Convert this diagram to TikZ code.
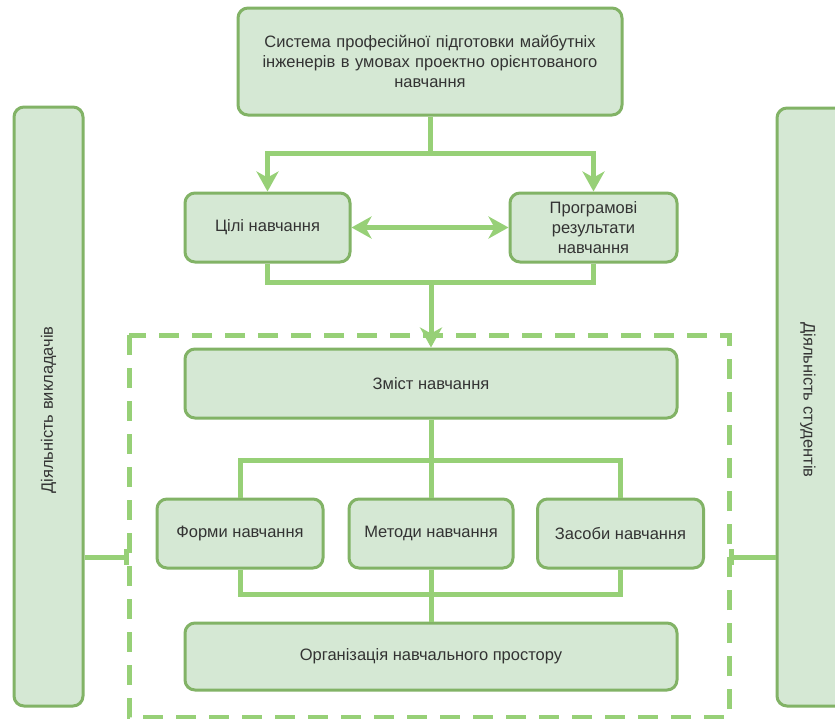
\documentclass[tikz,border=0pt]{standalone}
\usepackage{fontspec}
\setmainfont{Liberation Sans}
\usetikzlibrary{arrows.meta}

\definecolor{boxfill}{HTML}{D5E8D4}
\definecolor{boxline}{HTML}{82B366}
\definecolor{link}{HTML}{97D077}
\definecolor{ink}{HTML}{333333}

\tikzset{
  blk/.style={draw=boxline, fill=boxfill, line width=3pt, rounded corners=10pt,
    inner sep=2pt, align=center, text=ink,
    font=\fontsize{16.5}{20}\selectfont},
  sidetext/.style={text=ink, font=\fontsize{16.5}{18}\selectfont},
  link/.style={draw=link, line width=5pt},
  tip/.style={-{Stealth[length=20pt,width=22pt,inset=6pt]}},
  twotip/.style={{Stealth[length=20pt,width=22pt,inset=6pt]}-{Stealth[length=20pt,width=22pt,inset=6pt]}},
  frame/.style={draw=link, line width=5pt, dash pattern=on 20pt off 13pt},
}

\begin{document}
\begin{tikzpicture}[x=1pt, y=-1pt]
  \clip (0,0) rectangle (835,718);
  \fill[white] (0,0) rectangle (835,718);

  % dashed frame round the teaching components
  \draw[frame] (129,335) rectangle (729,717);

  % boxes
  \node[blk, minimum width=384pt, minimum height=107pt, text width=370pt] (sys) at (430,61.5)
    {Система професійної підготовки майбутніх\\інженерів в умовах проектно орієнтованого\\навчання};
  \node[blk, minimum width=165pt, minimum height=69pt] (goals) at (267.5,227.5) {Цілі навчання};
  \node[blk, minimum width=167pt, minimum height=69pt] (results) at (593.5,227.5)
    {Програмові\\результати\\навчання};
  \node[blk, minimum width=492pt, minimum height=69pt] (content) at (431,383.5) {Зміст навчання};
  \node[blk, minimum width=166pt, minimum height=69pt] (forms) at (240,533.5) {Форми навчання};
  \node[blk, minimum width=164pt, minimum height=69pt] (methods) at (431,533.5) {Методи навчання};
  \node[blk, minimum width=166pt, minimum height=69pt] (means) at (620.5,533.5) {Засоби навчання};
  \node[blk, minimum width=492pt, minimum height=67pt] (space) at (431,656.5)
    {Організація навчального простору};
  \node[blk, minimum width=69pt, minimum height=599pt] (teach) at (48.5,406.5) {};
  \node[sidetext, rotate=90] (teachtxt) at (48.5,410) {Діяльність викладачів};
  \node[blk, minimum width=69pt, minimum height=598pt] (learn) at (811.5,407) {};
  \node[sidetext, rotate=-90] (learntxt) at (808,400) {Діяльність студентів};

  % junction points
  \coordinate (split1) at (430,153);
  \coordinate (merge1) at (431,282);
  \coordinate (split2) at (431,460);
  \coordinate (merge2) at (431,594);
  \coordinate (lt) at (129,557);
  \coordinate (rt) at (729,557);

  % connectors
  \draw[link] (sys.south) -- (split1);
  \draw[link, tip] (split1) -| (goals.north);
  \draw[link, tip] (split1) -| (results.north);
  \draw[link, twotip] (goals.east) -- (results.west);

  \draw[link] (goals.south) |- (merge1);
  \draw[link] (results.south) |- (merge1);
  \draw[link, tip] (merge1) -- (content.north);

  \draw[link] (content.south) -- (split2);
  \draw[link] (split2) -| (forms.north);
  \draw[link] (split2) -- (methods.north);
  \draw[link] (split2) -| (means.north);

  \draw[link] (forms.south) |- (merge2);
  \draw[link] (means.south) |- (merge2);
  \draw[link] (methods.south) -- (merge2) -- (space.north);

  \draw[link, -{Bar[width=16pt]}] (teach.east |- lt) -- (lt);
  \draw[link, {Bar[width=16pt]}-] (rt) -- (learn.west |- rt);
\end{tikzpicture}
\end{document}
